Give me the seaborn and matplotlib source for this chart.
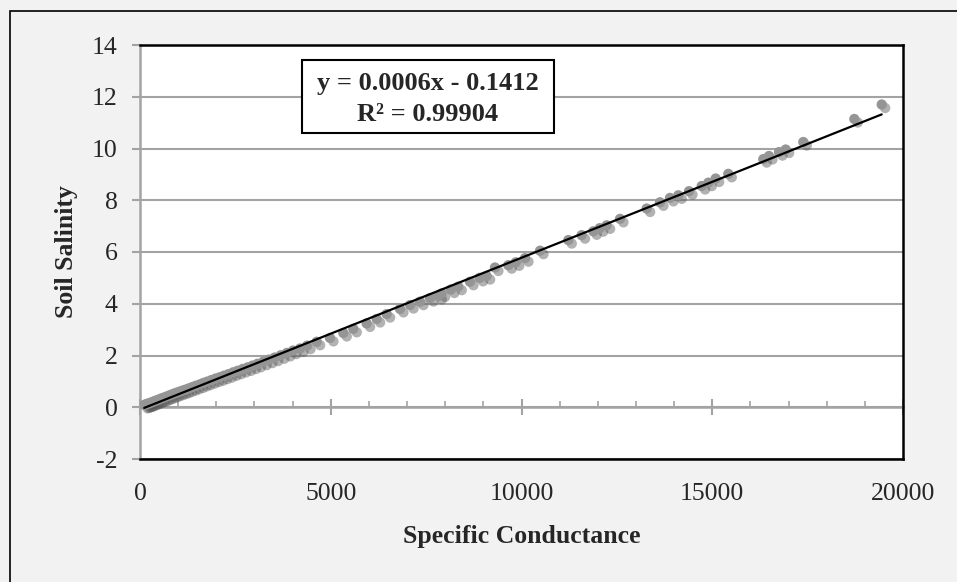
import matplotlib
matplotlib.use("Agg")
import matplotlib.pyplot as plt
import matplotlib.patheffects as pe
from matplotlib.patches import Rectangle
from matplotlib.ticker import MultipleLocator
import pandas as pd
import seaborn as sns

# values
conductance = [
    110, 150, 190, 230, 270, 320, 370, 420, 480, 540, 600, 670, 740, 810, 880, 950,
    1030, 1110, 1190, 1280, 1370, 1460, 1560, 1660, 1760, 1870, 1980, 2090, 2200,
    2320, 2440, 2560, 2690, 2820, 2950, 3080, 3230, 3380, 3530, 3690, 3850, 4010,
    4194, 4380, 4631, 4980, 5329, 5591, 5940, 6204, 6466, 6815, 7080, 7339, 7600,
    7820, 7907, 8150, 8343, 8650, 8900, 9087, 9304, 9654, 9850, 10092, 10485,
    11227, 11576, 11882, 12050, 12232, 12582, 13281, 13630, 13892, 14110, 14391,
    14723, 14897, 15090, 15421, 16338, 16488, 16750, 16925, 17387, 18724, 19442,
]
salinity = [
    0.09, 0.11, 0.13, 0.15, 0.17, 0.20, 0.23, 0.26, 0.29, 0.33, 0.36, 0.40, 0.44, 0.48, 0.52, 0.56,
    0.60, 0.64, 0.68, 0.73, 0.78, 0.83, 0.88, 0.94, 0.99, 1.05, 1.11, 1.16, 1.22,
    1.28, 1.35, 1.41, 1.48, 1.54, 1.61, 1.68, 1.76, 1.84, 1.92, 2.01, 2.10, 2.19,
    2.27, 2.38, 2.53, 2.68, 2.87, 3.03, 3.24, 3.41, 3.60, 3.80, 3.95, 4.08, 4.22,
    4.30, 4.40, 4.55, 4.66, 4.85, 5.00, 5.07, 5.40, 5.49, 5.60, 5.76, 6.05,
    6.46, 6.65, 6.80, 6.92, 7.03, 7.28, 7.68, 7.92, 8.09, 8.19, 8.35,
    8.55, 8.68, 8.84, 9.02, 9.59, 9.71, 9.86, 9.96, 10.25, 11.14, 11.70,
]
x_ticks = [0, 5000, 10000, 15000, 20000]
y_ticks = [-2, 0, 2, 4, 6, 8, 10, 12, 14]
equation = "y = 0.0006x - 0.1412\nR² = 0.99904"

df = pd.DataFrame({"Specific Conductance": conductance, "Soil Salinity": salinity})

sns.set_style("white")
plt.rcParams["font.family"] = ["Liberation Serif", "DejaVu Serif"]
plt.rcParams["axes.unicode_minus"] = False

gray = "#a3a3a3"
fig = plt.figure(figsize=(9.57, 5.82), dpi=100, facecolor="#f2f2f2")
ax = fig.add_axes([140 / 957, 1 - 459 / 582, 763 / 957, 414 / 582])
ax.set_facecolor("white")

# outer chart border (only left/top edges visible)
fig.add_artist(Rectangle((10 / 957, -0.5), 2, 1.5 - 11 / 582, transform=fig.transFigure,
                         fill=False, edgecolor="black", lw=1.2))

sns.regplot(data=df, x="Specific Conductance", y="Soil Salinity", ci=None, ax=ax,
            scatter_kws=dict(s=55, color="#959595", linewidths=0, alpha=1, zorder=3),
            line_kws=dict(color="black", lw=1.6, zorder=4))
ax.collections[0].set_path_effects([
    pe.SimplePatchShadow(offset=(2.5, -2.5), shadow_rgbFace="#555555", alpha=0.45),
    pe.Normal(),
])

ax.set_xlim(0, 20000)
ax.set_ylim(-2, 14)
ax.set_xticks(x_ticks)
ax.set_yticks(y_ticks)
ax.set_xlabel("")
ax.set_ylabel("")
ax.yaxis.grid(True, color=gray, lw=1.5)
ax.xaxis.grid(False)
ax.set_axisbelow(True)

for side in ["top", "right", "bottom"]:
    ax.spines[side].set_color("black")
    ax.spines[side].set_linewidth(1.8)
ax.spines["left"].set_color(gray)
ax.spines["left"].set_linewidth(1.8)

ax.tick_params(axis="y", direction="out", length=6, width=1.5, color=gray,
               labelsize=18.5, pad=10, left=True)
ax.tick_params(axis="x", length=0, labelsize=18.5, pad=17)

# x axis crossing at y = 0
sec = ax.secondary_xaxis(0.125)
sec.set_xticks(x_ticks)
sec.xaxis.set_minor_locator(MultipleLocator(1000))
sec.tick_params(which="major", direction="inout", length=12, width=1.5, color=gray,
                labelbottom=False, bottom=True)
sec.tick_params(which="minor", direction="in", length=4, width=1.2, color=gray, bottom=True)
for side, sp in sec.spines.items():
    sp.set_visible(side == "bottom")
sec.spines["bottom"].set_color(gray)
sec.spines["bottom"].set_linewidth(1.8)

# trendline label box
ax.add_patch(Rectangle((0.2123, 0.7874), 0.3303, 0.1763, transform=ax.transAxes,
                       facecolor="white", edgecolor="black", lw=1.5, zorder=5))
ax.text(0.3775, 0.8696, equation, transform=ax.transAxes, ha="center", va="center",
        fontsize=19, fontweight="bold", linespacing=1.45, zorder=6)

fig.text(521.5 / 957, 1 - 543 / 582, "Specific Conductance", ha="center", va="baseline",
         fontsize=18.5, fontweight="bold")
fig.text(67 / 957, 1 - 252 / 582, "Soil Salinity", ha="center", va="center",
         rotation=90, fontsize=18.5, fontweight="bold")

fig.savefig("out.png", dpi=100, facecolor=fig.get_facecolor())
